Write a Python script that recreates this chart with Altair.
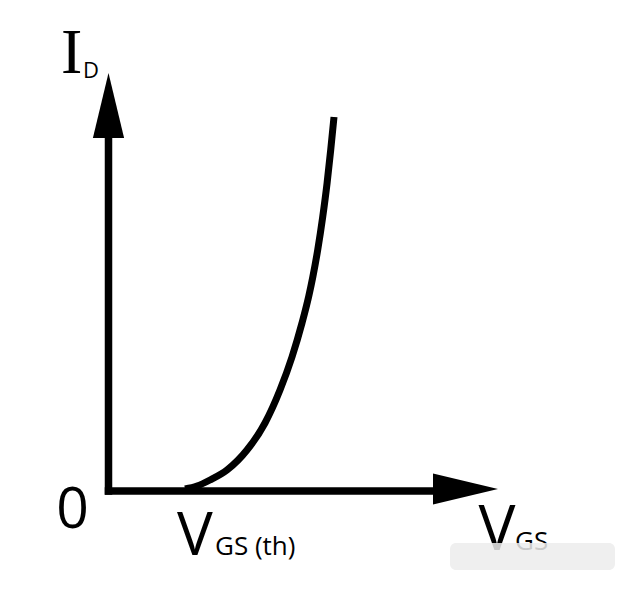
import altair as alt
import pandas as pd

# Transfer characteristic curve (V_GS, I_D) in arbitrary units
curve_v = [0.765, 0.885, 1.015, 1.185, 1.385, 1.565, 1.715, 1.835, 1.935, 2.003, 2.043, 2.092, 2.142, 2.186, 2.222, 2.255]
curve_i = [0.02, 0.05, 0.11, 0.21, 0.41, 0.68, 1.01, 1.34, 1.68, 1.95, 2.14, 2.41, 2.74, 3.08, 3.41, 3.74]

# Axis shafts (end values) and arrowhead centres
axis_v_end = 3.3
axis_i_end = 3.55
arrow_v = [3.57, 0.0]
arrow_i = [0.02, 3.855]
arrow_dir = ["right", "up"]

# Labels
label_text = ["I", "D", "0", "V", "GS (th)", "V", "GS"]
label_v = [-0.475, -0.255, -0.36, 0.685, 1.065, 3.70, 4.065]
label_i = [4.18, 4.13, -0.37, -0.64, -0.64, -0.59, -0.59]

# Watermark patch
patch_v = [3.415, 5.065]
patch_i = [-0.52, -0.79]

X_DOMAIN = [-1.005, 5.195]
Y_DOMAIN = [-1.07, 4.83]

xs = alt.Scale(domain=X_DOMAIN, nice=False, zero=False)
ys = alt.Scale(domain=Y_DOMAIN, nice=False, zero=False)

curve_df = pd.DataFrame({"v": curve_v, "i": curve_i, "o": list(range(len(curve_v)))})
axes_df = pd.DataFrame({
    "v": [0.0, 0.0], "v2": [axis_v_end, 0.0],
    "i": [0.0, 0.0], "i2": [0.0, axis_i_end],
})
arrow_df = pd.DataFrame({"v": arrow_v, "i": arrow_i, "d": arrow_dir})
lab_df = pd.DataFrame({"v": label_v, "i": label_i, "t": label_text, "k": list(range(len(label_text)))})
patch_df = pd.DataFrame({"v": [patch_v[0]], "v2": [patch_v[1]], "i": [patch_i[0]], "i2": [patch_i[1]]})

X = lambda: alt.X("v:Q", scale=xs, axis=None)
Y = lambda: alt.Y("i:Q", scale=ys, axis=None)

curve = alt.Chart(curve_df).mark_line(
    color="black", strokeWidth=7, interpolate="monotone", strokeCap="butt"
).encode(x=X(), y=Y(), order="o:Q")

axes = alt.Chart(axes_df).mark_rule(
    color="black", strokeWidth=7.5, strokeCap="square"
).encode(x=X(), x2="v2:Q", y=Y(), y2="i2:Q")

up_arrow = alt.Chart(arrow_df).transform_filter(alt.datum.d == "up").mark_point(
    shape="M0,-1L0.48,1L-0.48,1Z", filled=True, color="black", size=4225, opacity=1
).encode(x=X(), y=Y())

right_arrow = alt.Chart(arrow_df).transform_filter(alt.datum.d == "right").mark_point(
    shape="M1,0L-1,-0.48L-1,0.48Z", filled=True, color="black", size=4225, opacity=1
).encode(x=X(), y=Y())

def label(k, font, size, weight="normal", align="left"):
    return alt.Chart(lab_df).transform_filter(alt.datum.k == k).mark_text(
        font=font, fontSize=size, fontWeight=weight, align=align,
        baseline="alphabetic", color="black"
    ).encode(x=X(), y=Y(), text="t:N")

labels = [
    label(0, "Liberation Serif", 64),
    label(1, "Open Sans", 22),
    label(2, "Open Sans", 57, align="center"),
    label(3, "Open Sans", 60),
    label(4, "Open Sans", 26),
    label(5, "Open Sans", 62),
    label(6, "Open Sans", 26),
]

patch = alt.Chart(patch_df).mark_rect(
    color="#ececec", opacity=0.85, cornerRadius=6
).encode(x=X(), x2="v2:Q", y=Y(), y2="i2:Q")

chart = alt.layer(
    axes, curve, up_arrow, right_arrow, *labels, patch
).properties(
    width=620, height=590, padding=0, autosize=alt.AutoSizeParams(type="none")
).configure(background="white").configure_view(stroke=None, strokeWidth=0)

chart.save("out.html", embed_options={"renderer": "svg", "actions": False})
